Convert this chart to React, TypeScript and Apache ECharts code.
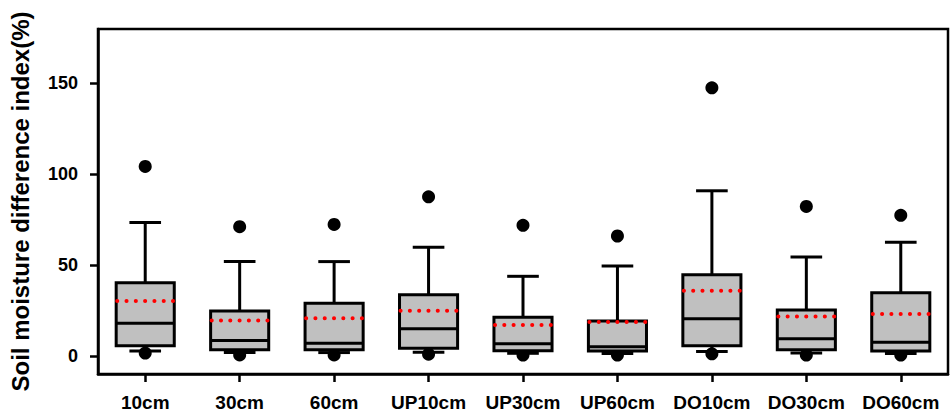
import React, { useEffect, useRef } from "react";
import * as echarts from "echarts";

const categories = ["10cm", "30cm", "60cm", "UP10cm", "UP30cm", "UP60cm", "DO10cm", "DO30cm", "DO60cm"];
const whiskerLow = [2.7, 1.8, 1.8, 2.0, 1.4, 1.3, 2.4, 1.6, 1.3];
const q1 = [5.5, 3.3, 3.3, 4.2, 2.8, 2.6, 5.5, 3.3, 2.6];
const median = [18, 8.4, 7.0, 14.9, 6.6, 5.0, 20.4, 9.4, 7.5];
const q3 = [40.3, 24.7, 29, 33.7, 21.3, 19.2, 44.6, 25.3, 34.7];
const whiskerHigh = [73.5, 51.9, 51.9, 59.8, 43.8, 49.5, 90.9, 54.5, 62.5];
const means = [30.2, 19.4, 20.7, 24.8, 17.0, 18.7, 35.8, 21.6, 23.1];
const outlierHigh = [104.3, 71.1, 72.4, 87.6, 71.9, 66.0, 147.6, 82.3, 77.4];
const outlierLow = [1.5, 0.5, 0.5, 0.9, 0.4, 0.4, 1.1, 0.4, 0.4];
const yTicks = [0, 50, 100, 150];

const FONT = "'Liberation Sans', Arial, sans-serif";

export default function App() {
  const ref = useRef<HTMLDivElement>(null);
  useEffect(() => {
    document.body.style.margin = "0";
    const chart = echarts.init(ref.current!, null, { renderer: "svg" });
    const boxData = categories.map((_, i) => [i, whiskerLow[i], q1[i], median[i], q3[i], whiskerHigh[i], means[i]]);
    const option: any = {
      animation: false,
      backgroundColor: "#fff",
      grid: {
        left: 88,
        top: 29,
        right: 2,
        bottom: 42,
        show: true,
        borderColor: "#000",
        borderWidth: 2.5,
        backgroundColor: "transparent",
      },
      xAxis: {
        type: "category",
        data: categories,
        boundaryGap: true,
        axisLine: { show: true, onZero: false, lineStyle: { color: "#000", width: 2.5 } },
        axisTick: { show: true, alignWithLabel: true, interval: 0, length: 8, lineStyle: { color: "#000", width: 2.5 } },
        axisLabel: { color: "#000", fontSize: 19, fontWeight: "bold", fontFamily: FONT, margin: 19, interval: 0 },
        splitLine: { show: false },
      },
      yAxis: {
        type: "value",
        min: -10,
        max: 180,
        name: "Soil moisture difference index(%)",
        nameLocation: "middle",
        nameRotate: 90,
        nameGap: 66,
        nameTextStyle: { color: "#000", fontSize: 24, fontWeight: "bold", fontFamily: FONT },
        axisLine: { show: true, onZero: false, lineStyle: { color: "#000", width: 2.5 } },
        axisTick: { show: true, length: 8, customValues: yTicks, lineStyle: { color: "#000", width: 2.5 } },
        axisLabel: { color: "#000", fontSize: 18, fontWeight: "bold", fontFamily: FONT, margin: 20, customValues: yTicks },
        splitLine: { show: false },
      },
      series: [
        {
          type: "custom",
          data: boxData,
          encode: { x: 0, y: [1, 2, 3, 4, 5, 6] },
          renderItem: (params: any, api: any) => {
            const idx = api.value(0);
            const pLo = api.coord([idx, api.value(1)]);
            const pQ1 = api.coord([idx, api.value(2)]);
            const pMed = api.coord([idx, api.value(3)]);
            const pQ3 = api.coord([idx, api.value(4)]);
            const pHi = api.coord([idx, api.value(5)]);
            const pMean = api.coord([idx, api.value(6)]);
            const band = api.size([1, 0])[0];
            const bw = band * 0.615;
            const cw = band * 0.335;
            const cx = pMed[0];
            const black = { stroke: "#000", lineWidth: 3, fill: null };
            return {
              type: "group",
              children: [
                { type: "line", shape: { x1: cx, y1: pQ3[1], x2: cx, y2: pHi[1] }, style: black },
                { type: "line", shape: { x1: cx - cw / 2, y1: pHi[1], x2: cx + cw / 2, y2: pHi[1] }, style: black },
                { type: "line", shape: { x1: cx, y1: pQ1[1], x2: cx, y2: pLo[1] }, style: black },
                { type: "line", shape: { x1: cx - cw / 2, y1: pLo[1], x2: cx + cw / 2, y2: pLo[1] }, style: black },
                {
                  type: "rect",
                  shape: { x: cx - bw / 2, y: pQ3[1], width: bw, height: pQ1[1] - pQ3[1] },
                  style: { fill: "#c0c0c0", stroke: "#000", lineWidth: 3 },
                },
                { type: "line", shape: { x1: cx - bw / 2, y1: pMed[1], x2: cx + bw / 2, y2: pMed[1] }, style: black },
                {
                  type: "line",
                  shape: { x1: cx - bw / 2 + 1, y1: pMean[1], x2: cx + bw / 2, y2: pMean[1] },
                  style: { stroke: "#ff0000", lineWidth: 4, lineCap: "round", lineDash: [0.1, 9.2], fill: null },
                },
              ],
            };
          },
          z: 2,
        },
        {
          type: "scatter",
          data: categories.map((_, i) => [i, outlierHigh[i]]),
          symbol: "circle",
          symbolSize: 13,
          itemStyle: { color: "#000", opacity: 1 },
          z: 3,
        },
        {
          type: "scatter",
          data: categories.map((_, i) => [i, outlierLow[i]]),
          symbol: "circle",
          symbolSize: 13,
          itemStyle: { color: "#000", opacity: 1 },
          z: 1,
        },
      ],
    };
    chart.setOption(option);
    return () => chart.dispose();
  }, []);
  return <div ref={ref} style={{ position: "fixed", left: 0, top: 0, width: 950, height: 416 }} />;
}
